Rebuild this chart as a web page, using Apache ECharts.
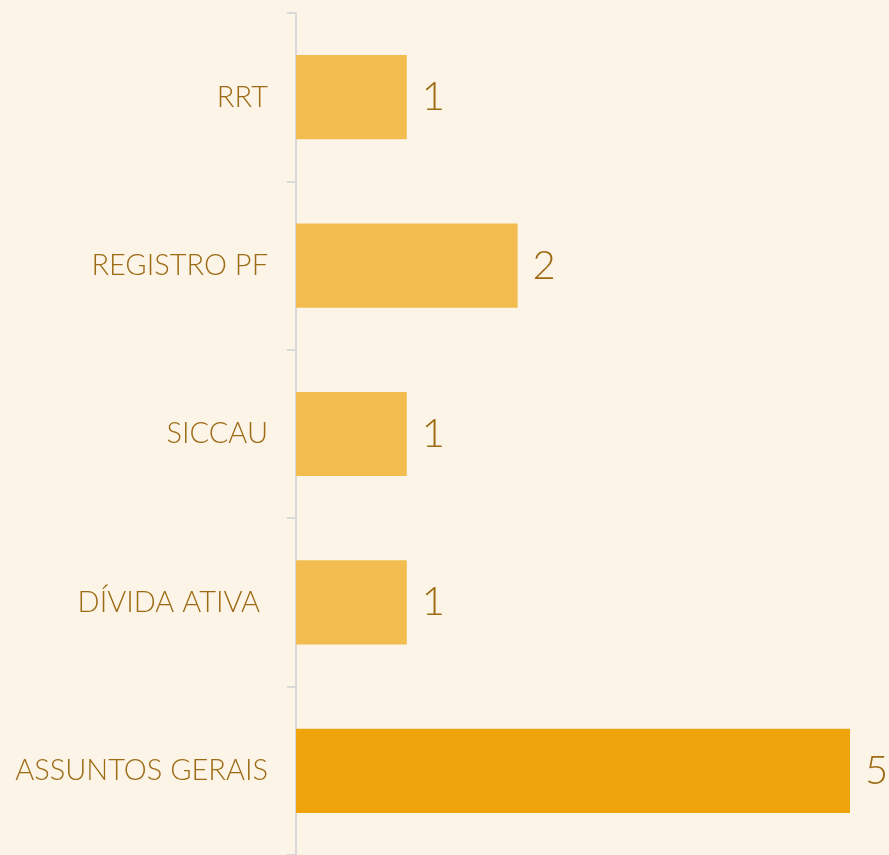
<!DOCTYPE html>
<html>
<head>
<meta charset="utf-8">
<script src="https://cdn.jsdelivr.net/npm/echarts@6/dist/echarts.min.js"></script>
<style>
  html, body { margin: 0; padding: 0; background: #fdf4e8; }
  #chart { width: 889px; height: 855px; }
</style>
</head>
<body>
<div id="chart"></div>
<script>
// categories top to bottom
const categories = ['RRT', 'REGISTRO PF', 'SICCAU', 'DÍVIDA ATIVA ', 'ASSUNTOS GERAIS'];
const values = [1, 2, 1, 1, 5];
const barColors = ['#f2bc4e', '#f2bc4e', '#f2bc4e', '#f2bc4e', '#eea40a'];

const textColor = '#9c6b14';
const chart = echarts.init(document.getElementById('chart'));

chart.setOption({
  backgroundColor: '#fdf4e8',
  grid: { left: 296, right: 39, top: 13, bottom: -1, containLabel: false },
  xAxis: {
    type: 'value',
    min: 0,
    max: 5,
    show: false
  },
  yAxis: {
    type: 'category',
    inverse: true,
    data: categories,
    axisLine: { show: true, lineStyle: { color: '#d9d9d9', width: 2 } },
    axisTick: { show: true, inside: false, length: 9, lineStyle: { color: '#d9d9d9', width: 2 } },
    axisLabel: {
      margin: 28,
      color: textColor,
      fontFamily: 'Lato, "Open Sans", sans-serif',
      fontWeight: 300,
      fontSize: 29
    }
  },
  series: [{
    type: 'bar',
    barWidth: '50%',
    data: values.map((v, i) => ({ value: v, itemStyle: { color: barColors[i] } })),
    label: {
      show: true,
      position: 'right',
      distance: 15,
      color: textColor,
      fontFamily: 'Lato, "Open Sans", sans-serif',
      fontWeight: 300,
      fontSize: 40
    }
  }]
});
</script>
</body>
</html>
